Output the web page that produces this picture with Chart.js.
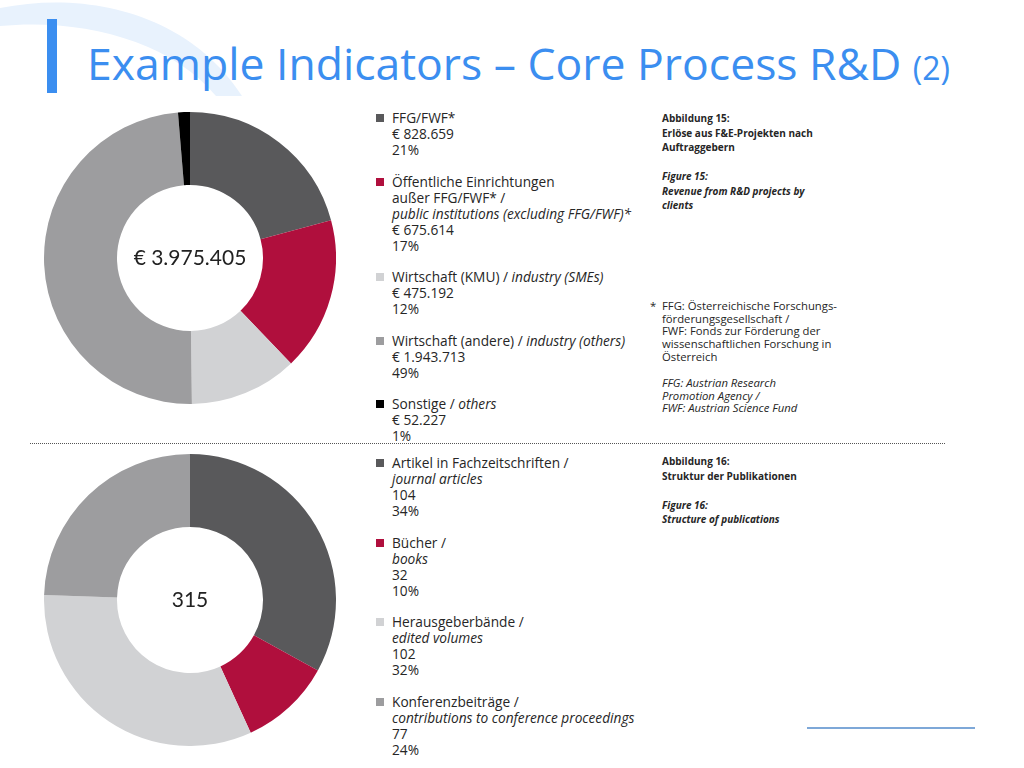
<!DOCTYPE html>
<html>
<head>
<meta charset="utf-8">
<script src="https://cdn.jsdelivr.net/npm/chart.js@4.4.0/dist/chart.umd.min.js"></script>
<style>
  body { margin: 0; width: 1024px; height: 768px; background: #fff; position: relative; overflow: hidden; font-family: 'Open Sans', sans-serif; color: #262626; }
  .abs { position: absolute; }
  #title { left: 87px; top: 32px; font-family: 'Open Sans', sans-serif; font-size: 44.5px; color: #3b8ef0; white-space: nowrap; line-height: 62px; }
  #title small { font-size: 32px; }
  .legend { left: 376px; font-size: 13.7px; line-height: 16px; }
  .legend .item { position: relative; padding-left: 16px; margin-bottom: 15.5px; white-space: nowrap; }
  .legend .sw { position: absolute; left: 0; top: 4px; width: 8px; height: 8px; }
  .cap { left: 662px; font-size: 10px; font-weight: bold; line-height: 14.5px; }
  .cap div { margin-bottom: 14.5px; }
  .note { left: 662px; top: 300px; font-size: 11.3px; line-height: 12.7px; }
  i { font-style: italic; }
</style>
</head>
<body>
<svg class="abs" style="left:0;top:0" width="300" height="130">
  <path d="M0,8 C90,-10 190,15 242,96 L216,96 C170,40 80,18 0,26 Z" fill="#e8f2fd"/>
</svg>
<div class="abs" style="left:47px;top:19px;width:10px;height:74px;background:#3b8ef0"></div>
<div id="title" class="abs">Example Indicators – Core Process R&amp;D <small>(2)</small></div>

<canvas id="c1" class="abs" style="left:44px;top:112px" width="292" height="292"></canvas>
<canvas id="c2" class="abs" style="left:44px;top:454px" width="292" height="292"></canvas>

<div class="abs legend" id="leg1" style="top:110px"></div>
<div class="abs legend" id="leg2" style="top:455px"></div>

<div class="abs cap" style="top:111px">
  <div>Abbildung 15:<br>Erlöse aus F&amp;E-Projekten nach<br>Auftraggebern</div>
  <div><i>Figure 15:<br>Revenue from R&amp;D projects by<br>clients</i></div>
</div>
<div class="abs note" style="left:650px;top:300px">*</div>
<div class="abs note">
  FFG: Österreichische Forschungs-<br>förderungsgesellschaft /<br>FWF: Fonds zur Förderung der<br>wissenschaftlichen Forschung in<br>Österreich
  <div style="margin-top:13.5px"><i>FFG: Austrian Research<br>Promotion Agency /<br>FWF: Austrian Science Fund</i></div>
</div>
<div class="abs cap" style="top:454px">
  <div>Abbildung 16:<br>Struktur der Publikationen</div>
  <div><i>Figure 16:<br>Structure of publications</i></div>
</div>

<div class="abs" style="left:30px;top:443px;width:915px;border-top:1px dotted #555"></div>
<div class="abs" style="left:807px;top:727px;width:168px;height:2px;background:#7ea8d8"></div>

<script>
const revenueLabels = [
  'FFG/FWF*',
  'Öffentliche Einrichtungen<br>außer FFG/FWF* /<br><i>public institutions (excluding FFG/FWF)*</i>',
  'Wirtschaft (KMU) / <i>industry (SMEs)</i>',
  'Wirtschaft (andere) / <i>industry (others)</i>',
  'Sonstige / <i>others</i>'
]
const revenueValues = [828659, 675614, 475192, 1943713, 52227]
const revenueText = ['€ 828.659', '€ 675.614', '€ 475.192', '€ 1.943.713', '€ 52.227']
const revenuePct = ['21%', '17%', '12%', '49%', '1%']
const revenueColors = ['#59595b', '#b00f3d', '#d1d2d4', '#9d9d9f', '#000000']
const revenueTotal = '€ 3.975.405'

const pubLabels = [
  'Artikel in Fachzeitschriften /<br><i>journal articles</i>',
  'Bücher /<br><i>books</i>',
  'Herausgeberbände /<br><i>edited volumes</i>',
  'Konferenzbeiträge /<br><i>contributions to conference proceedings</i>'
]
const pubValues = [104, 32, 102, 77]
const pubPct = ['34%', '10%', '32%', '24%']
const pubColors = ['#59595b', '#b00f3d', '#d1d2d4', '#9d9d9f']
const pubTotal = '315'

function buildLegend(id, labels, amounts, pcts, colors) {
  const el = document.getElementById(id)
  labels.forEach((l, i) => {
    const d = document.createElement('div')
    d.className = 'item'
    d.innerHTML = '<span class="sw" style="background:' + colors[i] + '"></span>' +
      l + '<br>' + amounts[i] + '<br>' + pcts[i]
    el.appendChild(d)
  })
}
buildLegend('leg1', revenueLabels, revenueText, revenuePct, revenueColors)
buildLegend('leg2', pubLabels, pubValues, pubPct, pubColors)

const centerText = {
  id: 'centerText',
  afterDraw(chart, args, opts) {
    const { ctx, chartArea } = chart
    ctx.save()
    ctx.font = '21px Lato, sans-serif'
    ctx.fillStyle = '#222'
    ctx.textAlign = 'center'
    ctx.textBaseline = 'middle'
    ctx.fillText(opts.text, (chartArea.left + chartArea.right) / 2, (chartArea.top + chartArea.bottom) / 2)
    ctx.restore()
  }
}

function donut(id, values, colors, total) {
  return new Chart(document.getElementById(id).getContext('2d'), {
    type: 'doughnut',
    data: {
      labels: values.map((v, i) => i),
      datasets: [{ data: values, backgroundColor: colors, borderWidth: 0 }]
    },
    options: {
      responsive: false,
      animation: false,
      cutout: '50%',
      layout: { padding: 0 },
      plugins: { legend: { display: false }, tooltip: { enabled: false }, centerText: { text: total } }
    },
    plugins: [centerText]
  })
}
donut('c1', revenueValues, revenueColors, revenueTotal)
donut('c2', pubValues, pubColors, pubTotal)
</script>
</body>
</html>
